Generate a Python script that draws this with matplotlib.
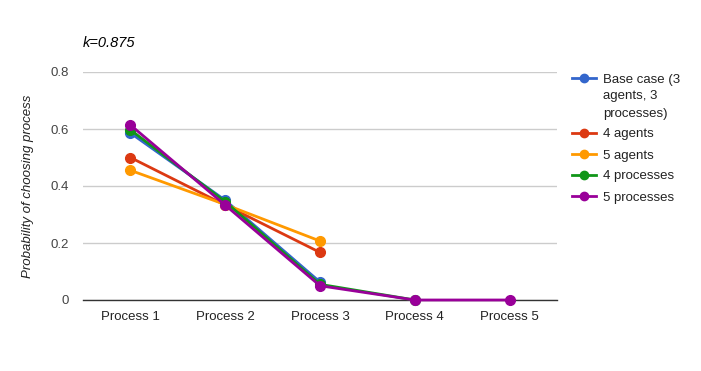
import matplotlib
matplotlib.use("Agg")
import matplotlib.pyplot as plt
from matplotlib.lines import Line2D

plt.rcParams['font.family'] = ['Liberation Sans', 'DejaVu Sans']

categories = ["Process 1", "Process 2", "Process 3", "Process 4", "Process 5"]
series_names = [["Base case (3", "agents, 3", "processes)"], ["4 agents"], ["5 agents"],
                ["4 processes"], ["5 processes"]]
base_case = [0.586, 0.35, 0.063]
agents4 = [0.5, 0.333, 0.167]
agents5 = [0.455, 0.335, 0.207]
processes4 = [0.597, 0.345, 0.055, 0.0]
processes5 = [0.614, 0.333, 0.05, 0.0, 0.0]
colors = ["#3366cc", "#dc3912", "#ff9900", "#109618", "#990099"]
yticks = [0, 0.2, 0.4, 0.6, 0.8]
ytick_labels = ["0", "0.2", "0.4", "0.6", "0.8"]

W, H = 701, 371
fig = plt.figure(figsize=(W/100, H/100), dpi=100)
ax = fig.add_axes([83/W, 1-300/H, (557-83)/W, (300-72)/H])

all_series = [base_case, agents4, agents5, processes4, processes5]
for vals, c in zip(all_series, colors):
    ax.plot(range(len(vals)), vals, color=c, lw=2, marker='o', ms=7, clip_on=False, zorder=3)

ax.set_xlim(-0.5, 4.5)
ax.set_ylim(0, 0.8)
ax.set_xticks(range(len(categories)))
ax.set_xticklabels(categories)
ax.set_yticks(yticks)
ax.set_yticklabels(ytick_labels)
ax.tick_params(length=0, labelsize=9.5, colors='#444444', pad=10)
ax.tick_params(axis='x', colors='#222222', pad=8)
ax.grid(axis='y', color='#cccccc', lw=1)
ax.set_axisbelow(True)
for s in ['top', 'right', 'left']:
    ax.spines[s].set_visible(False)
ax.spines['bottom'].set_color('#333333')
ax.spines['bottom'].set_linewidth(1)
ax.set_ylabel("Probability of choosing process", style='italic', fontsize=9.5, color='#222222', labelpad=12)

fig.text(83/W, 1-43/H, "k=0.875", style='italic', fontsize=10.5, color='#000000', va='center')

# legend drawn manually
handle_y = [78, 133, 154, 175, 196]
for names, c, hy in zip(series_names, colors, handle_y):
    fig.add_artist(Line2D([572/W, 596/W], [1-hy/H, 1-hy/H], color=c, lw=2,
                          transform=fig.transFigure))
    fig.add_artist(Line2D([584/W], [1-hy/H], color=c, marker='o', ms=6, lw=0,
                          transform=fig.transFigure))
    for i, line in enumerate(names):
        fig.text(603/W, 1-(hy+17*i)/H, line, fontsize=9.5, color='#222222', va='center_baseline')

fig.savefig("out.png", dpi=100)
